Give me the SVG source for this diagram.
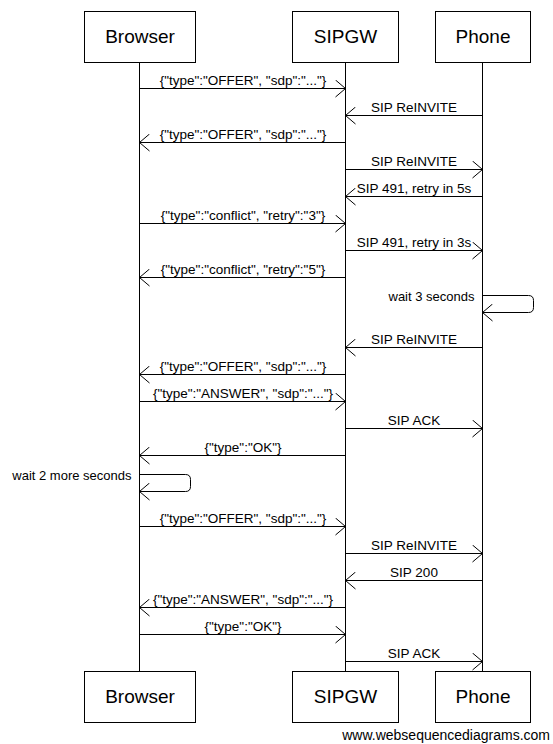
<svg xmlns="http://www.w3.org/2000/svg" width="553" height="744" viewBox="0 0 553 744">
<style>
.box{fill:#fff;stroke:#000;stroke-width:1}
.life{stroke:#000;stroke-width:1}
.hd{font-family:"Liberation Sans",Arial,sans-serif;font-size:19px;text-anchor:middle;fill:#000}
.msg{font-family:"Liberation Sans",Arial,sans-serif;font-size:13.5px;text-anchor:middle;fill:#000}
.note{font-family:"Liberation Sans",Arial,sans-serif;font-size:13px;text-anchor:end;fill:#000}
.ln{stroke:#000;stroke-width:1;fill:none;marker-end:url(#arr)}
.foot{font-family:"Liberation Sans",Arial,sans-serif;font-size:14px;text-anchor:end;fill:#000}
</style>
<defs>
<marker id="arr" viewBox="-11 -9 12 18" refX="0" refY="0" markerWidth="12" markerHeight="18" markerUnits="userSpaceOnUse" orient="auto">
<path d="M-10,-8.5 L0,0 L-10,8.5" fill="none" stroke="#000" stroke-width="1"/>
</marker>
</defs>
<rect width="553" height="744" fill="#fff"/>
<g id="lifelines">
<line class="life" x1="139.5" y1="62" x2="139.5" y2="671"/>
<line class="life" x1="345.5" y1="62" x2="345.5" y2="671"/>
<line class="life" x1="482.5" y1="62" x2="482.5" y2="671"/>
</g>
<g id="browser">
<rect class="box" x="84.5" y="11.5" width="111" height="51"/>
<text class="hd" x="140" y="43">Browser</text>
<rect class="box" x="84.5" y="671.5" width="111" height="51"/>
<text class="hd" x="140" y="703">Browser</text>
</g>
<g id="sipgw">
<rect class="box" x="292.5" y="11.5" width="106" height="51"/>
<text class="hd" x="345.5" y="43">SIPGW</text>
<rect class="box" x="292.5" y="671.5" width="106" height="51"/>
<text class="hd" x="345.5" y="703">SIPGW</text>
</g>
<g id="phone">
<rect class="box" x="435.5" y="11.5" width="95" height="51"/>
<text class="hd" x="483" y="43">Phone</text>
<rect class="box" x="435.5" y="671.5" width="95" height="51"/>
<text class="hd" x="483" y="703">Phone</text>
</g>
<g id="connectors">
<path class="ln" d="M139.5,88.5 H345.5"/>
<text class="msg" x="243" y="84.5">{"type":"OFFER", "sdp":"..."}</text>
<path class="ln" d="M482.5,115.5 H345.5"/>
<text class="msg" x="414" y="111.5">SIP ReINVITE</text>
<path class="ln" d="M345.5,142.5 H139.5"/>
<text class="msg" x="243" y="138.5">{"type":"OFFER", "sdp":"..."}</text>
<path class="ln" d="M345.5,169.5 H482.5"/>
<text class="msg" x="414" y="165.5">SIP ReINVITE</text>
<path class="ln" d="M482.5,196.5 H345.5"/>
<text class="msg" x="414" y="192.5">SIP 491, retry in 5s</text>
<path class="ln" d="M139.5,223.5 H345.5"/>
<text class="msg" x="243" y="219.5">{"type":"conflict", "retry":"3"}</text>
<path class="ln" d="M345.5,250.5 H482.5"/>
<text class="msg" x="414" y="246.5">SIP 491, retry in 3s</text>
<path class="ln" d="M345.5,277.5 H139.5"/>
<text class="msg" x="243" y="273.5">{"type":"conflict", "retry":"5"}</text>
<path class="ln" d="M482.5,295.5 H528.5 Q533.5,295.5 533.5,300.5 V307.5 Q533.5,312.5 528.5,312.5 H482.5"/>
<text class="note" x="474.5" y="301">wait 3 seconds</text>
<path class="ln" d="M482.5,347.5 H345.5"/>
<text class="msg" x="414" y="343.5">SIP ReINVITE</text>
<path class="ln" d="M345.5,374.5 H139.5"/>
<text class="msg" x="243" y="370.5">{"type":"OFFER", "sdp":"..."}</text>
<path class="ln" d="M139.5,401.5 H345.5"/>
<text class="msg" x="243" y="397.5">{"type":"ANSWER", "sdp":"..."}</text>
<path class="ln" d="M345.5,428.5 H482.5"/>
<text class="msg" x="414" y="424.5">SIP ACK</text>
<path class="ln" d="M345.5,455.5 H139.5"/>
<text class="msg" x="243" y="451.5">{"type":"OK"}</text>
<path class="ln" d="M139.5,474.5 H185.5 Q190.5,474.5 190.5,479.5 V486.5 Q190.5,491.5 185.5,491.5 H139.5"/>
<text class="note" x="131.5" y="480">wait 2 more seconds</text>
<path class="ln" d="M139.5,526.5 H345.5"/>
<text class="msg" x="243" y="522.5">{"type":"OFFER", "sdp":"..."}</text>
<path class="ln" d="M345.5,553.5 H482.5"/>
<text class="msg" x="414" y="549.5">SIP ReINVITE</text>
<path class="ln" d="M482.5,580.5 H345.5"/>
<text class="msg" x="414" y="576.5">SIP 200</text>
<path class="ln" d="M345.5,607.5 H139.5"/>
<text class="msg" x="243" y="603.5">{"type":"ANSWER", "sdp":"..."}</text>
<path class="ln" d="M139.5,634.5 H345.5"/>
<text class="msg" x="243" y="630.5">{"type":"OK"}</text>
<path class="ln" d="M345.5,661.5 H482.5"/>
<text class="msg" x="414" y="657.5">SIP ACK</text>
</g>
<text class="foot" x="550" y="740">www.websequencediagrams.com</text>
</svg>
